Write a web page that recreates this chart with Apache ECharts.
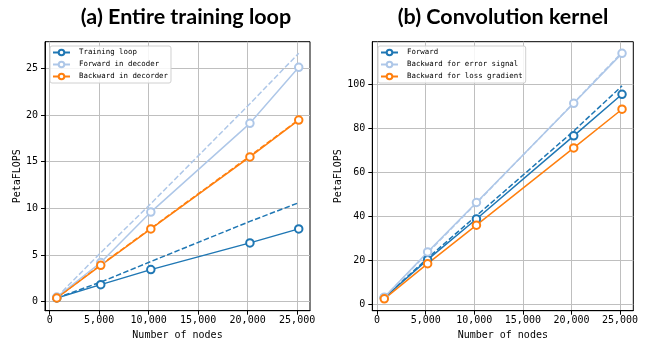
<!DOCTYPE html>
<html><head><meta charset="utf-8">
<script src="https://cdn.jsdelivr.net/npm/echarts@6/dist/echarts.min.js"></script>
<style>html,body{margin:0;padding:0;background:#fff}#c{width:647px;height:347px}</style>
</head><body><div id="c"></div>
<script>
// ---- data ----
const nodesA = [720, 5160, 10220, 20230, 25160];
const trainingLoop = [0.4, 1.83, 3.44, 6.3, 7.8];
const trainingLoopIdeal = [0.4, 2.1, 4.3, 8.6, 10.6];
const forwardDecoder = [0.5, 4.2, 9.6, 19.1, 25.1];
const forwardDecoderIdeal = [0.5, 5.25, 10.5, 21.2, 26.6];
const backwardDecoder = [0.4, 3.9, 7.8, 15.5, 19.45];
const backwardDecoderIdeal = [0.4, 3.95, 7.85, 15.6, 19.5];

const nodesB = [740, 5200, 10220, 20230, 25200];
const convForward = [3.0, 20.3, 38.8, 76.6, 95.5];
const convForwardIdeal = [3.0, 21.0, 40.3, 78.8, 99.3];
const convBackErr = [3.2, 23.8, 46.3, 91.4, 114.1];
const convBackErrIdeal = [3.2, 23.4, 46.0, 91.6, 114.6];
const convBackLoss = [2.5, 18.5, 36.0, 71.1, 88.7];

const xTicks = [0, 5000, 10000, 15000, 20000, 25000];
const yTicksA = [0, 5, 10, 15, 20, 25];
const yTicksB = [0, 20, 40, 60, 80, 100];

const titleA = '(a) Entire training loop';
const titleB = '(b) Convolution kernel';
const legendA = ['Training loop', 'Forward in decoder', 'Backward in decorder'];
const legendB = ['Forward', 'Backward for error signal', 'Backward for loss gradient'];

// ---- chart ----
const C1 = '#1f77b4', C2 = '#aec7e8', C3 = '#ff7f0e';
const mono = '"DejaVu Sans Mono", monospace';
const pair = (xs, ys) => xs.map((x, i) => [x, ys[i]]);

function xAxis(gi, min, max) {
  return {
    type: 'value', gridIndex: gi, min: min, max: max,
    name: 'Number of nodes', nameLocation: 'middle', nameGap: 19,
    nameTextStyle: {fontFamily: mono, fontSize: 10, color: '#000'},
    axisLine: {show: true, onZero: false, lineStyle: {color: '#000', width: 1}},
    axisTick: {show: true, inside: false, length: 4, lineStyle: {color: '#000'}, customValues: xTicks},
    axisLabel: {customValues: xTicks, margin: 5, fontFamily: mono, fontSize: 10, color: '#000',
      formatter: v => v.toLocaleString('en-US')},
    splitLine: {show: true, lineStyle: {color: '#bfbfbf', width: 1}}
  };
}
function yAxis(gi, min, max, ticks, gap) {
  return {
    type: 'value', gridIndex: gi, min: min, max: max,
    name: 'PetaFLOPS', nameLocation: 'middle', nameGap: gap, nameRotate: 90,
    nameTextStyle: {fontFamily: mono, fontSize: 10, color: '#000'},
    axisLine: {show: true, onZero: false, lineStyle: {color: '#000', width: 1}},
    axisTick: {show: true, inside: false, length: 4, lineStyle: {color: '#000'}, customValues: ticks},
    axisLabel: {customValues: ticks, margin: 7, fontFamily: mono, fontSize: 10, color: '#000'},
    splitLine: {show: true, lineStyle: {color: '#bfbfbf', width: 1}}
  };
}
function solid(name, gi, xs, ys, color) {
  return {
    type: 'line', name: name, xAxisIndex: gi, yAxisIndex: gi, data: pair(xs, ys),
    symbol: 'emptyCircle', symbolSize: 7.5, showSymbol: true,
    lineStyle: {color: color, width: 1.5}, itemStyle: {color: color, borderWidth: 1},
    emphasis: {disabled: true}, animation: false, z: 3
  };
}
function dashed(name, gi, xs, ys, color) {
  return {
    type: 'line', name: name, xAxisIndex: gi, yAxisIndex: gi, data: pair(xs, ys),
    symbol: 'none', lineStyle: {color: color, width: 1.5, type: [5.5, 2.4]},
    itemStyle: {color: color}, emphasis: {disabled: true}, animation: false, z: 2
  };
}
function legend(left, names) {
  return {
    left: left, top: 46, orient: 'vertical', data: names,
    itemWidth: 17, itemHeight: 7, itemGap: 3,
    padding: [2, 3, 2, 2],
    backgroundColor: 'rgba(255,255,255,0.85)', borderColor: '#d0d0d0', borderWidth: 1, borderRadius: 2,
    textStyle: {fontFamily: mono, fontSize: 7.4, color: '#000', lineHeight: 9, padding: [0, 0, 0, 4]},
    selectedMode: false
  };
}

const chart = echarts.init(document.getElementById('c'), null, {renderer: 'canvas'});
chart.setOption({
  animation: false,
  backgroundColor: '#fff',
  title: [
    {text: titleA, left: 181, top: 1, textAlign: 'center',
     textStyle: {fontFamily: 'Lato', fontWeight: 'bold', fontSize: 21.5, color: '#000'}},
    {text: titleB, left: 498, top: 1, textAlign: 'center',
     textStyle: {fontFamily: 'Lato', fontWeight: 'bold', fontSize: 21.5, color: '#000'}}
  ],
  grid: [
    {left: 45, top: 41.7, width: 265, height: 269, show: true, borderColor: '#000', borderWidth: 1, backgroundColor: 'transparent'},
    {left: 372.3, top: 41.7, width: 261, height: 269, show: true, borderColor: '#000', borderWidth: 1, backgroundColor: 'transparent'}
  ],
  xAxis: [xAxis(0, -470, 26300), xAxis(1, -494, 26360)],
  yAxis: [yAxis(0, -0.96, 27.84, yTicksA, 18), yAxis(1, -2.9, 119.4, yTicksB, 23)],
  legend: [legend(50, legendA), legend(378, legendB)],
  series: [
    solid(legendA[0], 0, nodesA, trainingLoop, C1),
    dashed('tl-ideal', 0, nodesA, trainingLoopIdeal, C1),
    solid(legendA[1], 0, nodesA, forwardDecoder, C2),
    dashed('fd-ideal', 0, nodesA, forwardDecoderIdeal, C2),
    solid(legendA[2], 0, nodesA, backwardDecoder, C3),
    dashed('bd-ideal', 0, nodesA, backwardDecoderIdeal, C3),
    solid(legendB[0], 1, nodesB, convForward, C1),
    dashed('cf-ideal', 1, nodesB, convForwardIdeal, C1),
    solid(legendB[1], 1, nodesB, convBackErr, C2),
    dashed('ce-ideal', 1, nodesB, convBackErrIdeal, C2),
    solid(legendB[2], 1, nodesB, convBackLoss, C3)
  ]
});
</script></body></html>
